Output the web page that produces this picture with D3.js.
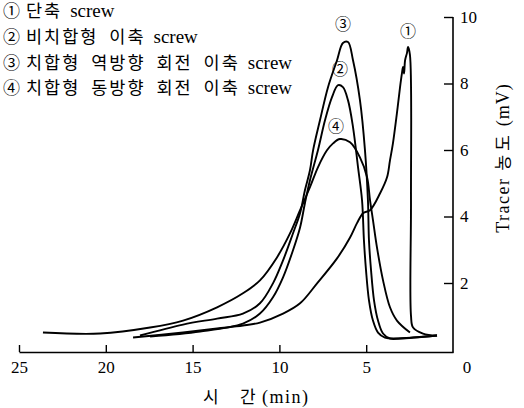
<!DOCTYPE html>
<html><head><meta charset="utf-8">
<script src="https://cdn.jsdelivr.net/npm/d3@7"></script>
<style>
html,body{margin:0;padding:0;background:#fff;}
svg{display:block;}
text{font-family:"Liberation Serif","Noto Sans CJK KR",serif;fill:#000;}
</style></head>
<body><svg id="c" width="524" height="408"></svg>
<script>
// ---- data ----
const legendNums = ["①","②","③","④"];
const legendKo = ["단축","비치합형 이축","치합형 역방향 회전 이축","치합형 동방향 회전 이축"];
const legendEn = ["screw","screw","screw","screw"];
const xTicks = [25,20,15,10,5];
const yTicks = [2,4,6,8,10];
const xTitleParts = ["시","간","(min)"];
const yTitleParts = ["Tracer","농도","(mV)"];
// curve 1: 단축 screw  [time(min), mV]
const curve1 = [[18.43,0.36],[15.55,0.51],[13.59,0.63],[12.10,0.72],[11.12,0.81],[9.79,1.08],[8.81,1.39],[7.83,1.99],[6.68,2.74],[5.93,3.37],[5.53,3.80],[5.18,4.10],[4.78,4.19],[4.20,4.70],[3.80,5.18],[3.63,5.69],[3.46,6.20],[3.23,7.11],[3.05,7.89],[2.94,8.31],[2.88,8.50],[2.82,8.30],[2.76,8.70],[2.65,8.92],[2.59,9.10],[2.48,8.86],[2.42,4.49],[2.42,1.02],[2.30,0.66],[1.73,0.48],[0.92,0.42]];
// curve 2: 비치합형 이축 screw
const curve2 = [[17.45,0.39],[14.57,0.54],[12.10,0.78],[11.12,1.08],[10.37,1.57],[9.79,2.17],[9.22,2.98],[8.81,3.67],[8.53,4.40],[8.24,5.09],[7.78,5.99],[7.37,6.90],[6.97,7.59],[6.62,7.95],[6.34,7.89],[6.05,7.50],[5.76,6.69],[5.47,5.48],[5.24,4.49],[5.13,3.28],[5.01,2.38],[4.84,1.48],[4.61,0.87],[4.32,0.51],[3.92,0.36],[3.34,0.33],[0.92,0.42]];
// curve 3: 치합형 역방향 회전 이축 screw
const curve3 = [[18.03,0.42],[15.55,0.75],[13.59,0.93],[12.10,1.08],[11.12,1.39],[10.37,1.99],[9.79,2.68],[9.22,3.49],[8.81,4.10],[8.53,4.79],[8.24,5.39],[8.06,5.99],[7.66,6.90],[7.20,7.89],[6.68,8.70],[6.34,9.22],[6.05,9.25],[5.76,8.70],[5.36,7.50],[5.07,5.99],[4.90,4.49],[4.84,3.28],[4.72,2.38],[4.55,1.48],[4.32,0.87],[4.03,0.48],[3.63,0.33],[3.05,0.33],[0.92,0.42]];
// curve 4: 치합형 동방향 회전 이축 screw
const curve4 = [[23.62,0.51],[20.33,0.48],[17.45,0.66],[15.55,0.87],[13.59,1.27],[12.10,1.69],[11.12,2.08],[10.14,2.77],[9.39,3.49],[8.81,4.19],[8.24,4.88],[7.78,5.48],[7.26,5.99],[6.91,6.20],[6.51,6.33],[5.93,6.23],[5.36,5.78],[4.95,5.18],[4.78,4.49],[4.61,3.89],[4.38,3.07],[4.03,2.08],[3.63,1.27],[3.23,0.87],[2.48,0.51]];
const curveMarks = [["①",2.59,9.55],["②",6.51,8.43],["③",6.34,9.76],["④",6.74,6.72]];

// ---- chart ----
const svg = d3.select("#c");
const x = d3.scaleLinear().domain([25,0]).range([19,453]);
const y = d3.scaleLinear().domain([0,10]).range([349.5,17]);
const axisY = 352;

// x axis
const gx = svg.append("g").attr("transform",`translate(0,${axisY})`)
  .call(d3.axisBottom(x).tickValues(xTicks).tickSizeInner(-7).tickSizeOuter(0).tickPadding(9).tickFormat(d3.format("d")));
gx.select(".domain").attr("stroke","#000").attr("stroke-width",1.6);
gx.selectAll(".tick line").attr("stroke","#000").attr("stroke-width",1.4);
gx.selectAll(".tick text").attr("font-size",17).attr("font-family",'"Liberation Serif",serif');

// y axis (right)
const gy = svg.append("g").attr("transform",`translate(${x(0)},0)`)
  .call(d3.axisRight(y).tickValues(yTicks).tickSizeInner(-9).tickSizeOuter(0).tickPadding(7).tickFormat(d3.format("d")));
gy.select(".domain").remove();
gy.append("line").attr("x1",0).attr("x2",0).attr("y1",y(10)).attr("y2",axisY+0.8).attr("stroke","#000").attr("stroke-width",1.6);
gy.selectAll(".tick line").attr("stroke","#000").attr("stroke-width",1.4);
gy.selectAll(".tick text").attr("font-size",17).attr("font-family",'"Liberation Serif",serif').attr("text-anchor","start");
// zero label
svg.append("text").attr("x",x(0)+14).attr("y",axisY+21).attr("text-anchor","middle").attr("font-size",17).text("0");

// curves
const line = d3.line().x(d=>x(d[0])).y(d=>y(d[1])).curve(d3.curveCatmullRom.alpha(0.5));
[curve1,curve2,curve3,curve4].forEach(c=>{
  svg.append("path").datum(c).attr("d",line).attr("fill","none").attr("stroke","#000").attr("stroke-width",1.9).attr("stroke-linejoin","round");
});

// curve markers
curveMarks.forEach(m=>{
  svg.append("text").attr("x",x(m[1])).attr("y",y(m[2])).attr("text-anchor","middle").attr("dominant-baseline","central")
    .attr("font-size",16).text(m[0]);
});

// legend
legendNums.forEach((n,i)=>{
  const t = svg.append("text").attr("y",17+i*25.8);
  t.append("tspan").attr("x",3).attr("font-size",17).text(n);
  t.append("tspan").attr("x",26).attr("font-size",17.5).attr("letter-spacing",2).attr("word-spacing",5)
    .attr("font-family",'"Noto Sans CJK KR",sans-serif').text(legendKo[i]);
  t.append("tspan").attr("dx",8).attr("font-size",19).text(legendEn[i]);
});

// axis titles
const xt = svg.append("text").attr("y",403);
xt.append("tspan").attr("x",203).attr("font-size",17).attr("font-family",'"Noto Sans CJK KR",sans-serif').text(xTitleParts[0]);
xt.append("tspan").attr("x",240).attr("font-size",17).attr("font-family",'"Noto Sans CJK KR",sans-serif').text(xTitleParts[1]);
xt.append("tspan").attr("x",262).attr("font-size",18).attr("letter-spacing",1.5).text(xTitleParts[2]);

const yt = svg.append("text").attr("transform","translate(509,158) rotate(-90)").attr("text-anchor","middle");
yt.append("tspan").attr("font-size",18).attr("letter-spacing",1.5).text(yTitleParts[0]);
yt.append("tspan").attr("dx",7).attr("font-size",17).attr("letter-spacing",4).attr("font-family",'"Noto Sans CJK KR",sans-serif').text(yTitleParts[1]);
yt.append("tspan").attr("dx",5).attr("font-size",18).attr("letter-spacing",1).text(yTitleParts[2]);
</script></body></html>
